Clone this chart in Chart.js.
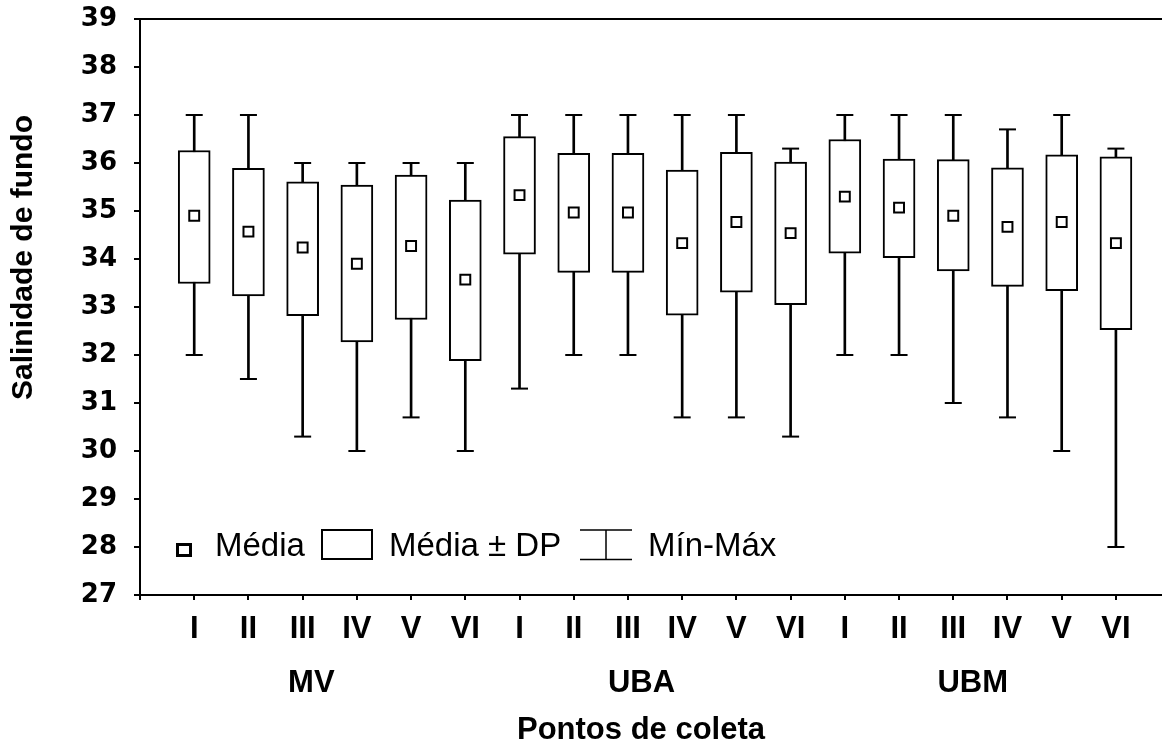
<!DOCTYPE html>
<html>
<head>
<meta charset="utf-8">
<script src="https://cdn.jsdelivr.net/npm/chart.js@4.4.1/dist/chart.umd.min.js"></script>
<style>
  html, body { margin: 0; padding: 0; background: #fff; }
  #wrap { width: 1162px; height: 742px; position: relative; }
  canvas { display: block; }
</style>
</head>
<body>
<div id="wrap"><canvas id="c" width="1162" height="742"></canvas></div>
<script>
// ---- data ----
const categories = ['I','II','III','IV','V','VI','I','II','III','IV','V','VI','I','II','III','IV','V','VI'];
const groups = ['MV', 'UBA', 'UBM'];
const yTitle = 'Salinidade de fundo';
const xTitle = 'Pontos de coleta';
const legendLabels = ['Média', 'Média ± DP', 'Mín-Máx'];

const means  = [34.90, 34.57, 34.24, 33.90, 34.27, 33.57,
                35.33, 34.97, 34.97, 34.33, 34.77, 34.54,
                35.30, 35.07, 34.90, 34.67, 34.77, 34.33];
const sdLow  = [33.49, 33.23, 32.82, 32.27, 32.74, 31.88,
                34.10, 33.72, 33.72, 32.83, 33.31, 33.05,
                34.12, 34.03, 33.75, 33.43, 33.34, 32.53];
const sdHigh = [36.26, 35.89, 35.61, 35.54, 35.75, 35.23,
                36.55, 36.20, 36.20, 35.85, 36.22, 36.02,
                36.49, 36.08, 36.07, 35.90, 36.17, 36.13];
const minVals = [32.0, 31.5, 30.3, 30.0, 30.7, 30.0,
                 31.3, 32.0, 32.0, 30.7, 30.7, 30.3,
                 32.0, 32.0, 31.0, 30.7, 30.0, 28.0];
const maxVals = [37.0, 37.0, 36.0, 36.0, 36.0, 36.0,
                 37.0, 37.0, 37.0, 37.0, 37.0, 36.3,
                 37.0, 37.0, 37.0, 36.7, 37.0, 36.3];
const yMin = 27, yMax = 39, yStep = 1;

// ---- build library structures ----
const pos = categories.map((c, i) => i + 1);
const stemData = pos.map((x, i) => ({ x, y: [minVals[i], maxVals[i]] }));
const boxData  = pos.map((x, i) => ({ x, y: [sdLow[i], sdHigh[i]] }));
const capData  = pos.flatMap((x, i) => [{ x, y: minVals[i] }, { x, y: maxVals[i] }]);
const meanData = pos.map((x, i) => ({ x, y: means[i] }));

const SANS = '"Liberation Sans", Arial, Helvetica, sans-serif';

const decor = {
  id: 'decor',
  afterDraw(chart) {
    const { ctx, chartArea: a, scales: { x } } = chart;
    ctx.save();
    // top frame line
    ctx.strokeStyle = '#000';
    ctx.lineWidth = 2;
    ctx.beginPath();
    ctx.moveTo(a.left - 1, a.top);
    ctx.lineTo(a.right, a.top);
    ctx.stroke();

    ctx.fillStyle = '#000';
    // y title
    ctx.save();
    ctx.font = 'bold 30px ' + SANS;
    ctx.translate(32, 257.5);
    ctx.rotate(-Math.PI / 2);
    ctx.textAlign = 'center';
    ctx.textBaseline = 'alphabetic';
    ctx.fillText(yTitle, 0, 0);
    ctx.restore();

    // group labels
    const groupAt = [3.16, 9.25, 15.36];
    ctx.font = 'bold 31px ' + SANS;
    ctx.textAlign = 'center';
    ctx.textBaseline = 'alphabetic';
    groups.forEach((g, i) => ctx.fillText(g, x.getPixelForValue(groupAt[i]), 691.5));

    // x title
    ctx.font = 'bold 31px ' + SANS;
    ctx.fillText(xTitle, 641, 739);

    // legend
    ctx.textAlign = 'left';
    ctx.font = '33px ' + SANS;
    ctx.lineWidth = 3;
    ctx.strokeRect(177.5, 544.5, 13, 11);
    ctx.fillText(legendLabels[0], 215, 556);
    ctx.lineWidth = 2;
    ctx.strokeRect(322, 530, 50, 29);
    ctx.fillText(legendLabels[1], 389, 556);
    ctx.lineWidth = 1.5;
    ctx.beginPath();
    ctx.moveTo(580, 530); ctx.lineTo(632, 530);
    ctx.moveTo(580, 559.5); ctx.lineTo(632, 559.5);
    ctx.moveTo(606, 530); ctx.lineTo(606, 559.5);
    ctx.stroke();
    ctx.fillText(legendLabels[2], 648, 556);
    ctx.restore();
  }
};

new Chart(document.getElementById('c'), {
  type: 'bar',
  data: {
    datasets: [
      { type: 'bar', label: 'stem', data: stemData, barThickness: 2, grouped: false,
        backgroundColor: '#000', borderWidth: 0, order: 4 },
      { type: 'bar', label: legendLabels[1], data: boxData, barThickness: 32, grouped: false,
        backgroundColor: '#fff', borderColor: '#000', borderWidth: 2, borderSkipped: false, order: 3 },
      { type: 'scatter', label: legendLabels[2], data: capData, showLine: false,
        pointStyle: 'line', pointRadius: 8.5, pointHoverRadius: 8.5,
        borderColor: '#000', pointBorderColor: '#000', pointBorderWidth: 2, order: 2 },
      { type: 'scatter', label: legendLabels[0], data: meanData, showLine: false,
        pointStyle: 'rect', pointRadius: 7, pointHoverRadius: 7,
        pointBackgroundColor: '#fff', pointBorderColor: '#000', pointBorderWidth: 2, order: 1 }
    ]
  },
  options: {
    responsive: false,
    animation: false,
    devicePixelRatio: 1,
    events: [],
    layout: { autoPadding: false, padding: { top: 19, left: 0, right: 0, bottom: 0 } },
    plugins: { legend: { display: false }, tooltip: { enabled: false }, title: { display: false } },
    scales: {
      x: {
        type: 'linear',
        min: 0,
        max: 18.85,
        offset: false,
        afterBuildTicks: (axis) => { axis.ticks = [0, ...pos].map(v => ({ value: v })); },
        afterFit: (s) => { s.height = 147; s.paddingLeft = 0; s.paddingRight = 0; },
        grid: { display: true, drawOnChartArea: false, drawTicks: true, tickLength: 5,
                color: '#000', lineWidth: 2, offset: false },
        border: { display: true, color: '#000', width: 2 },
        ticks: {
          autoSkip: false, maxRotation: 0, minRotation: 0, padding: 11, color: '#000',
          font: { family: SANS, size: 31, weight: 'bold' },
          callback: (v) => { const k = Math.round(v); return k >= 1 && k <= categories.length ? categories[k - 1] : ''; }
        }
      },
      y: {
        type: 'linear',
        min: yMin,
        max: yMax,
        afterFit: (s) => { s.width = 140; s.paddingTop = 0; s.paddingBottom = 0; },
        grid: { display: true, drawOnChartArea: false, drawTicks: true, tickLength: 6,
                color: '#000', lineWidth: 2 },
        border: { display: true, color: '#000', width: 2 },
        ticks: {
          stepSize: yStep, padding: 17, color: '#000',
          font: { family: '"DejaVu Sans", sans-serif', size: 26, weight: 'bold' }
        }
      }
    }
  },
  plugins: [decor]
});
</script>
</body>
</html>
